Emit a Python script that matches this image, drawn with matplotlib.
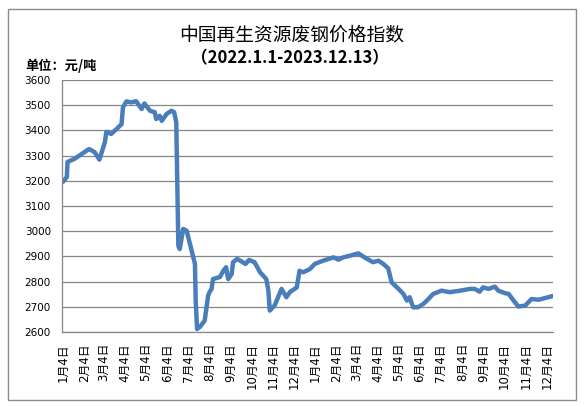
import numpy as np
import pandas as pd
import matplotlib
matplotlib.use('Agg')
import matplotlib.pyplot as plt
import matplotlib.dates as mdates
from matplotlib.patches import Rectangle

plt.rcParams['font.family'] = ['Noto Sans CJK SC', 'DejaVu Sans']

# data (yuan / ton)
dates = ['2022-01-04', '2022-01-10', '2022-01-11', '2022-01-21', '2022-02-11',
         '2022-02-19', '2022-02-26', '2022-03-06', '2022-03-08', '2022-03-15',
         '2022-03-23', '2022-03-30', '2022-04-01', '2022-04-06', '2022-04-13',
         '2022-04-20', '2022-04-28', '2022-05-02', '2022-05-10', '2022-05-17',
         '2022-05-19', '2022-05-24', '2022-05-27', '2022-06-03', '2022-06-10',
         '2022-06-14', '2022-06-17', '2022-06-20', '2022-06-22', '2022-06-27',
         '2022-07-02', '2022-07-11', '2022-07-14', '2022-07-15', '2022-07-17',
         '2022-07-21', '2022-07-28', '2022-08-02', '2022-08-04', '2022-08-07',
         '2022-08-09', '2022-08-19', '2022-08-24', '2022-08-28', '2022-08-31',
         '2022-09-05', '2022-09-07', '2022-09-13', '2022-09-21', '2022-09-25',
         '2022-09-30', '2022-10-08', '2022-10-16', '2022-10-25', '2022-10-28',
         '2022-10-30', '2022-11-06', '2022-11-16', '2022-11-23', '2022-11-28',
         '2022-12-08', '2022-12-12', '2022-12-17', '2022-12-22', '2022-12-27',
         '2023-01-03', '2023-01-15', '2023-01-30', '2023-02-06', '2023-02-13',
         '2023-02-23', '2023-03-07', '2023-03-16', '2023-03-28', '2023-04-05',
         '2023-04-12', '2023-04-19', '2023-04-24', '2023-05-04', '2023-05-11',
         '2023-05-16', '2023-05-20', '2023-05-25', '2023-06-01', '2023-06-09',
         '2023-06-14', '2023-06-23', '2023-07-05', '2023-07-17', '2023-08-01',
         '2023-08-15', '2023-08-22', '2023-08-29', '2023-09-03', '2023-09-11',
         '2023-09-20', '2023-09-25', '2023-10-05', '2023-10-10', '2023-10-17',
         '2023-10-24', '2023-11-03', '2023-11-12', '2023-11-22', '2023-12-02',
         '2023-12-13']
prices = [3195, 3215, 3275, 3287, 3326,
          3314, 3284, 3354, 3394, 3386,
          3406, 3425, 3492, 3515, 3511,
          3516, 3485, 3507, 3478, 3472,
          3445, 3458, 3438, 3465, 3478,
          3472, 3432, 2942, 2929, 3009,
          3002, 2903, 2870, 2731, 2612,
          2620, 2645, 2744, 2758, 2771,
          2810, 2818, 2843, 2857, 2810,
          2830, 2877, 2890, 2877, 2870,
          2886, 2877, 2837, 2810, 2764,
          2685, 2705, 2771, 2738, 2758,
          2777, 2843, 2837, 2843, 2850,
          2870, 2883, 2896, 2887, 2896,
          2903, 2912, 2896, 2877, 2883,
          2870, 2853, 2797, 2771, 2751,
          2725, 2738, 2698, 2698, 2712,
          2725, 2751, 2764, 2758, 2764,
          2771, 2771, 2760, 2777, 2771,
          2780, 2764, 2754, 2751, 2725,
          2701, 2705, 2731, 2728, 2735,
          2743]
tick_dates = pd.date_range('2022-01-01', '2023-12-01', freq='MS') + pd.Timedelta(days=3)
tick_labels = [f'{d.month}月{d.day}日' for d in tick_dates]
yticks = [2600, 2700, 2800, 2900, 3000, 3100, 3200, 3300, 3400, 3500, 3600]

x = pd.to_datetime(dates)

fig = plt.figure(figsize=(5.86, 4.07), dpi=100)
fig.patches.append(Rectangle((8/586, 1-400/407), 568/586, 391/407, transform=fig.transFigure,
                             fill=False, edgecolor='#8c8c8c', linewidth=1.0))

ax = fig.add_axes([62/586, 1-332/407, 491/586, 252/407])
ax.plot(x, prices, color='#4a7ebb', linewidth=3.2, solid_joinstyle='round', solid_capstyle='round')

ax.set_xlim(pd.Timestamp('2022-01-03'), pd.Timestamp('2023-12-13'))
ax.set_ylim(2600, 3600)
ax.set_yticks(yticks)
ax.set_yticklabels([str(v) for v in yticks], fontsize=7.5, family='DejaVu Sans')
ax.set_xticks(tick_dates)
ax.set_xticklabels(tick_labels, rotation=90, fontsize=8.5, family=['DejaVu Sans', 'Noto Sans CJK SC'])
ax.tick_params(axis='y', length=0, pad=8)
ax.tick_params(axis='x', length=0, pad=8)
ax.grid(axis='y', color='#868686', linewidth=0.9)
ax.set_axisbelow(True)
for s in ['top', 'right']:
    ax.spines[s].set_visible(False)
for s in ['left', 'bottom']:
    ax.spines[s].set_color('#868686')
    ax.spines[s].set_linewidth(0.9)

fig.text(292/586, 1-35/407, '中国再生资源废钢价格指数', ha='center', va='center', fontsize=13.5)
fig.text(290/586, 1-58/407, '（2022.1.1-2023.12.13）', ha='center', va='center',
         fontsize=12, fontweight='bold')
fig.text(25/586, 1-66/407, '单位：元/吨', ha='left', va='center', fontsize=9.5, fontweight='bold')

fig.savefig('out.png', dpi=100)
